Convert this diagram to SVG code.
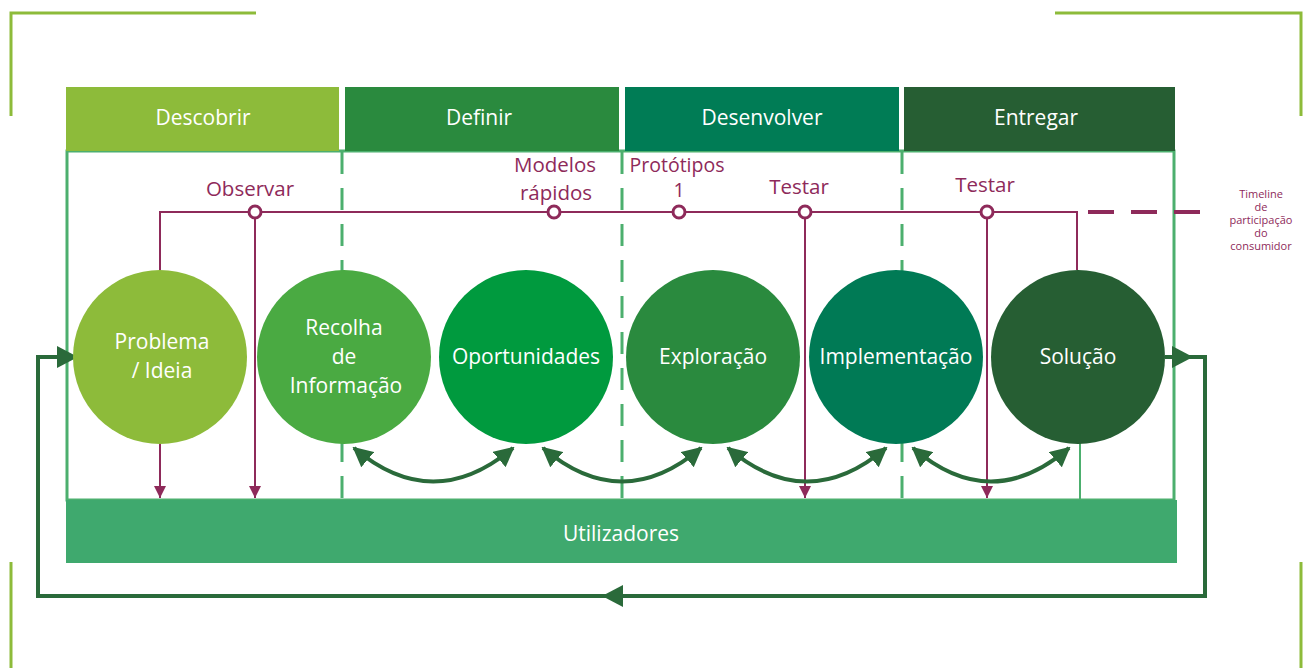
<svg xmlns="http://www.w3.org/2000/svg" width="1309" height="668" viewBox="0 0 1309 668">
<style>
.br{fill:none;stroke:#8dbb3a;stroke-width:3}
.hd{font-family:"Open Sans","Liberation Sans",sans-serif;font-size:21px;fill:#fff;text-anchor:middle}
.ct{font-family:"Open Sans","Liberation Sans",sans-serif;font-size:21px;fill:#fff;text-anchor:middle}
.pl{font-family:"Open Sans","Liberation Sans",sans-serif;font-size:20.5px;fill:#8e2a5a;text-anchor:middle}
.tl{font-family:"Open Sans","Liberation Sans",sans-serif;font-size:11px;fill:#8e2a5a;text-anchor:middle}
.pu{fill:none;stroke:#8e2a5a;stroke-width:2}
.dot{fill:#fff;stroke:#8e2a5a;stroke-width:3}
.sep{fill:none;stroke:#4caf6e;stroke-width:3;stroke-dasharray:22 14}
.cv{fill:none;stroke:#2a6a3a;stroke-width:4;marker-start:url(#ga);marker-end:url(#ga)}
</style>
<defs>
<marker id="pa" viewBox="0 0 10 10" refX="10" refY="5" markerWidth="12" markerHeight="12" markerUnits="userSpaceOnUse" orient="auto">
<path d="M0,0 L10,5 L0,10 z" fill="#8e2a5a"/>
</marker>
<marker id="ga" viewBox="0 0 10 10" refX="9" refY="5" markerWidth="5" markerHeight="5" orient="auto-start-reverse">
<path d="M0,0 L10,5 L0,10 z" fill="#2a6a3a"/>
</marker>
</defs>

<!-- corner brackets -->
<g id="brackets">
<path class="br" d="M256,13 H11 V116"/>
<path class="br" d="M1055,13 H1301 V116"/>
<path class="br" d="M11,562 V668"/>
<path class="br" d="M1301,562 V668"/>
</g>

<!-- frame -->
<g id="frame">
<rect x="67" y="151" width="1107" height="349" fill="#fff" stroke="#4caf6e" stroke-width="3"/>
<line class="sep" x1="342" y1="152" x2="342" y2="500"/>
<line class="sep" x1="622" y1="152" x2="622" y2="500"/>
<line class="sep" x1="902" y1="152" x2="902" y2="500"/>
<line x1="1080" y1="440" x2="1080" y2="500" stroke="#4caf6e" stroke-width="2"/>
</g>

<!-- headers -->
<g id="h-descobrir"><rect x="66" y="87" width="273" height="64" fill="#8dbb3a"/><text class="hd" x="203" y="125">Descobrir</text></g>
<g id="h-definir"><rect x="345" y="87" width="274" height="64" fill="#2a8a3e"/><text class="hd" x="479" y="125">Definir</text></g>
<g id="h-desenvolver"><rect x="625" y="87" width="274" height="64" fill="#007c55"/><text class="hd" x="762" y="125">Desenvolver</text></g>
<g id="h-entregar"><rect x="904" y="87" width="271" height="64" fill="#265e33"/><text class="hd" x="1036" y="125">Entregar</text></g>

<!-- utilizadores -->
<g id="utilizadores"><rect x="66" y="500" width="1111" height="63" fill="#3fa96e"/><text class="hd" x="621" y="541">Utilizadores</text></g>

<!-- connectors -->
<g id="connectors">
<path class="pu" d="M160,270 V212 H1077 V270"/>
<path fill="none" stroke="#8e2a5a" stroke-width="4" stroke-dasharray="26 17" d="M1088,212 H1212"/>
<line class="pu" x1="160" y1="444" x2="160" y2="498" marker-end="url(#pa)"/>
<line class="pu" x1="255" y1="212" x2="255" y2="498" marker-end="url(#pa)"/>
<line class="pu" x1="805" y1="212" x2="805" y2="498" marker-end="url(#pa)"/>
<line class="pu" x1="987" y1="212" x2="987" y2="498" marker-end="url(#pa)"/>
<circle class="dot" cx="255" cy="212" r="6"/>
<circle class="dot" cx="554" cy="212" r="6"/>
<circle class="dot" cx="679" cy="212" r="6"/>
<circle class="dot" cx="805" cy="212" r="6"/>
<circle class="dot" cx="987" cy="212" r="6"/>

<path class="cv" d="M354,448 Q433,515 513,448"/>
<path class="cv" d="M543,448 Q622,515 701,448"/>
<path class="cv" d="M728,448 Q807,515 886,448"/>
<path class="cv" d="M913,448 Q991,515 1069,448"/>

<path fill="none" stroke="#2a6a3a" stroke-width="4" d="M1165,357 H1205 V596 H38 V357 H60"/>
<path d="M1172,346 L1193,357 L1172,368 z" fill="#2a6a3a"/>
<path d="M57,346 L78,357 L57,368 z" fill="#2a6a3a"/>
<path d="M623,585 L602,596 L623,607 z" fill="#2a6a3a"/>
</g>

<!-- purple labels -->
<g id="labels">
<text class="pl" x="250" y="196">Observar</text>
<text class="pl" x="555" y="172">Modelos</text>
<text class="pl" x="556" y="200">rápidos</text>
<text class="pl" x="677" y="172" style="font-size:19.5px">Protótipos</text>
<text class="pl" x="679" y="197" style="font-size:19.5px">1</text>
<text class="pl" x="799" y="194">Testar</text>
<text class="pl" x="985" y="192">Testar</text>
<text class="tl" x="1261" y="198">Timeline</text>
<text class="tl" x="1261" y="211">de</text>
<text class="tl" x="1261" y="224">participação</text>
<text class="tl" x="1261" y="237">do</text>
<text class="tl" x="1261" y="250">consumidor</text>
</g>

<!-- circles -->
<g id="n-problema"><circle cx="160" cy="357" r="87" fill="#8dbb3a"/><text class="ct" x="162" y="349">Problema</text><text class="ct" x="162" y="378">/ Ideia</text></g>
<g id="n-recolha"><circle cx="344" cy="357" r="87" fill="#4aaa42"/><text class="ct" x="344" y="335">Recolha</text><text class="ct" x="344" y="364">de</text><text class="ct" x="346" y="393">Informação</text></g>
<g id="n-oportunidades"><circle cx="526" cy="357" r="87" fill="#009a3e"/><text class="ct" x="526" y="364">Oportunidades</text></g>
<g id="n-exploracao"><circle cx="713" cy="357" r="87" fill="#2a8a3e"/><text class="ct" x="713" y="364">Exploração</text></g>
<g id="n-implementacao"><circle cx="896" cy="357" r="87" fill="#007a55"/><text class="ct" x="896" y="364">Implementação</text></g>
<g id="n-solucao"><circle cx="1078" cy="357" r="87" fill="#265e33"/><text class="ct" x="1078" y="364">Solução</text></g>
</svg>
